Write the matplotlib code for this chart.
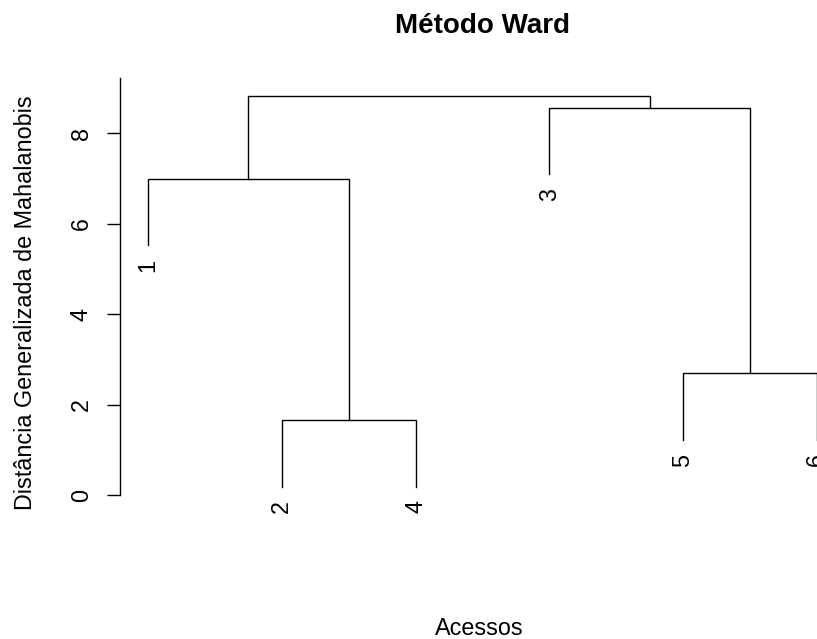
import matplotlib
matplotlib.use("Agg")
import matplotlib.pyplot as plt

plt.rcParams['font.family'] = ['Liberation Sans', 'DejaVu Sans']

# hclust-style merge table: negative = single observation, positive = earlier merge (1-based)
merge = [(-2, -4), (-5, -6), (-1, 1), (-3, 2), (3, 4)]
heights = [1.65, 2.69, 6.99, 8.56, 8.83]
order = [1, 2, 4, 3, 5, 6]
labels = ['1', '2', '4', '3', '5', '6']
hang = 1.465
yticks = [0, 2, 4, 6, 8]

fig = plt.figure(figsize=(8.17, 6.39), dpi=100)
ax = fig.add_axes([0.1469, 0.1748, 0.8871, 0.7027])

leaf_x = {obs: i + 1 for i, obs in enumerate(order)}
node_x = {}
node_h = {}

def child_pos(c, h):
    # position of a child and where its vertical line starts
    if c < 0:
        return leaf_x[-c], h - hang
    return node_x[c], node_h[c]

lw = 1.0
for k, (a, b) in enumerate(merge, start=1):
    h = heights[k - 1]
    xa, ya = child_pos(a, h)
    xb, yb = child_pos(b, h)
    ax.plot([xa, xa, xb, xb], [ya, h, h, yb], color='black', lw=lw,
            solid_joinstyle='miter', clip_on=False)
    node_x[k] = (xa + xb) / 2
    node_h[k] = h
    for c, xc, yc in ((a, xa, ya), (b, xb, yb)):
        if c < 0:
            ax.annotate(str(-c), xy=(xc, yc), xytext=(0, -10),
                        textcoords='offset points', rotation=90,
                        ha='center', va='top', fontsize=16.8)

ax.set_xlim(0.79, 6.21)
ax.set_ylim(-0.714, 9.217)

for s in ['top', 'right', 'bottom']:
    ax.spines[s].set_visible(False)
ax.spines['left'].set_bounds(0, 9.217)
ax.spines['left'].set_linewidth(lw)
ax.set_xticks([])
ax.set_yticks(yticks)
ax.set_yticklabels([str(t) for t in yticks], rotation=90, va='center', fontsize=16.8)
ax.tick_params(axis='y', length=9.6, width=lw, pad=10)

ax.set_title('Método Ward', fontsize=20, fontweight='bold', y=1.1002, pad=0)
ax.set_ylabel('Distância Generalizada de Mahalanobis', fontsize=16.8)
ax.yaxis.set_label_coords(-0.1151, 0.5)
ax.set_xlabel('Acessos', fontsize=16.8, va='baseline')
ax.xaxis.set_label_coords(0.496, -0.2399)

fig.savefig('out.png', dpi=100)
